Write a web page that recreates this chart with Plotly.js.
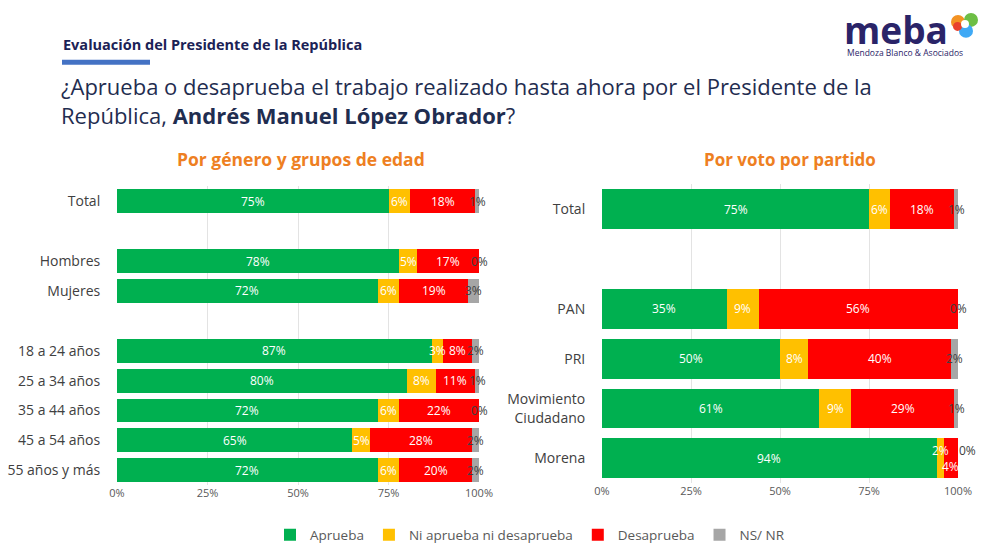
<!DOCTYPE html>
<html><head><meta charset="utf-8">
<script src="https://cdn.plot.ly/plotly-3.0.1.min.js"></script>
<style>html,body{margin:0;padding:0;background:#fff}#chart{width:1003px;height:551px}</style>
</head><body><div id="chart"></div><script>
// ---- data ----
const seriesNames = ['Aprueba', 'Ni aprueba ni desaprueba', 'Desaprueba', 'NS/ NR'];
const leftCategories = ['Total', ' ', 'Hombres', 'Mujeres', '  ', '18 a 24 años', '25 a 34 años', '35 a 44 años', '45 a 54 años', '55 años y más'];
const leftAprueba     = [75, null, 78, 72, null, 87, 80, 72, 65, 72];
const leftNi          = [6,  null, 5,  6,  null, 3,  8,  6,  5,  6];
const leftDesaprueba  = [18, null, 17, 19, null, 8,  11, 22, 28, 20];
const leftNsnr        = [1,  null, 0,  3,  null, 2,  1,  0,  2,  2];

const rightCategories = ['Total', ' ', 'PAN', 'PRI', 'Movimiento<br>Ciudadano', 'Morena'];
const rightAprueba    = [75, null, 35, 50, 61, 94];
const rightNi         = [6,  null, 9,  8,  9,  2];
const rightDesaprueba = [18, null, 56, 40, 29, 4];
const rightNsnr       = [1,  null, 0,  2,  1,  0];

const xTicks = [0, 25, 50, 75, 100];
const xTickLabels = ['0%', '25%', '50%', '75%', '100%'];

// ---- styles ----
const colors = ['#00B050', '#FFC000', '#FF0000', '#A6A6A6'];
const textColors = ['#FFFFFF', '#FFFFFF', '#FFFFFF', '#404040'];
const FONT = '"Open Sans", Lato, sans-serif';
// manual label nudges (pixels) as in the original: key = category|seriesIndex
const labelNudge = {'Morena|1': [0, 8], 'Morena|2': [0, -8], 'Morena|3': [9, 8]};

function makeTraces(cats, series, xa, ya, showLegend) {
  return series.map((vals, i) => ({
    type: 'bar', orientation: 'h',
    name: seriesNames[i], x: vals, y: cats,
    xaxis: xa, yaxis: ya,
    marker: {color: colors[i], line: {width: 0}},
    showlegend: showLegend, legendgroup: 'g' + i, hoverinfo: 'skip'
  }));
}

function makeLabels(cats, series, xa, ya) {
  const out = [];
  cats.forEach((c, j) => {
    let cum = 0;
    series.forEach((vals, i) => {
      const v = vals[j];
      if (v === null) return;
      const nudge = labelNudge[c + '|' + i] || [0, 0];
      out.push({
        xref: xa, yref: ya, x: cum + v / 2, y: c, text: v + '%',
        showarrow: false, xanchor: 'center', yanchor: 'middle',
        xshift: nudge[0], yshift: nudge[1],
        font: {family: FONT, size: 12, color: textColors[i]}
      });
      cum += v;
    });
  });
  return out;
}

const leftSeries = [leftAprueba, leftNi, leftDesaprueba, leftNsnr];
const rightSeries = [rightAprueba, rightNi, rightDesaprueba, rightNsnr];

const data = [
  ...makeTraces(leftCategories, leftSeries, 'x', 'y', true),
  ...makeTraces(rightCategories, rightSeries, 'x2', 'y2', false)
];

const W = 1003, H = 551;
const px = x => x / W, py = y => 1 - y / H;

const xaxisBase = {
  range: [0, 100], tickvals: xTicks, ticktext: xTickLabels,
  showgrid: true, gridcolor: '#E3E3E3', gridwidth: 1, zeroline: false,
  showline: false, ticks: '', tickfont: {family: FONT, size: 11, color: '#595959'},
  fixedrange: true
};
const yaxisBase = {
  type: 'category', showgrid: false, zeroline: false, showline: false,
  ticks: 'outside', ticklen: 13, tickcolor: 'rgba(0,0,0,0)',
  tickfont: {family: FONT, size: 14, color: '#404040'}, fixedrange: true
};

const layout = {
  width: W, height: H,
  margin: {l: 0, r: 0, t: 0, b: 0},
  paper_bgcolor: '#FFFFFF', plot_bgcolor: '#FFFFFF',
  barmode: 'stack', bargap: 0.2,
  font: {family: FONT},
  xaxis: Object.assign({}, xaxisBase, {domain: [px(117), px(479)], anchor: 'y'}),
  yaxis: Object.assign({}, yaxisBase, {domain: [py(487), py(187)], anchor: 'x',
    categoryorder: 'array', categoryarray: leftCategories, range: [leftCategories.length - 0.5, -0.5]}),
  xaxis2: Object.assign({}, xaxisBase, {domain: [px(602), px(958)], anchor: 'y2'}),
  yaxis2: Object.assign({}, yaxisBase, {domain: [py(485), py(185)], anchor: 'x2',
    categoryorder: 'array', categoryarray: rightCategories, range: [rightCategories.length - 0.5, -0.5]}),
  legend: {
    orientation: 'h', x: px(530), xanchor: 'center', y: py(537), yanchor: 'middle',
    font: {family: FONT, size: 13.5, color: '#595959'}, traceorder: 'normal',
    itemwidth: 30, bgcolor: 'rgba(0,0,0,0)'
  },
  shapes: [
    {type: 'rect', xref: 'paper', yref: 'paper', x0: px(62), x1: px(150), y0: py(65), y1: py(60),
     fillcolor: '#4472C4', line: {width: 0}},
    // logo icon
    {type: 'circle', xref: 'paper', yref: 'paper', x0: px(951), x1: px(965), y0: py(29), y1: py(15), fillcolor: '#F39323', line: {width: 0}},
    {type: 'circle', xref: 'paper', yref: 'paper', x0: px(964), x1: px(978), y0: py(27), y1: py(13), fillcolor: '#6DBE45', line: {width: 0}},
    {type: 'circle', xref: 'paper', yref: 'paper', x0: px(959), x1: px(973), y0: py(38), y1: py(24), fillcolor: '#3FA9F5', line: {width: 0}},
    {type: 'circle', xref: 'paper', yref: 'paper', x0: px(953), x1: px(962), y0: py(31), y1: py(22), fillcolor: '#E8412C', line: {width: 0}},
    {type: 'circle', xref: 'paper', yref: 'paper', x0: px(961), x1: px(969), y0: py(28), y1: py(20), fillcolor: '#FFFFFF', line: {width: 0}}
  ],
  annotations: [
    ...makeLabels(leftCategories, leftSeries, 'x', 'y'),
    ...makeLabels(rightCategories, rightSeries, 'x2', 'y2'),
    {text: '<b>Evaluación del Presidente de la República</b>', xref: 'paper', yref: 'paper',
     x: px(61), y: py(45), xanchor: 'left', yanchor: 'middle', showarrow: false,
     font: {family: FONT, size: 14.5, color: '#1B2256'}},
    {text: '¿Aprueba o desaprueba el trabajo realizado hasta ahora por el Presidente de la<br>República, <b>Andrés Manuel López Obrador</b>?',
     xref: 'paper', yref: 'paper', x: px(59), y: py(101), xanchor: 'left', yanchor: 'middle',
     align: 'left', showarrow: false, font: {family: FONT, size: 22, color: '#1F2D50'}},
    {text: '<b>Por género y grupos de edad</b>', xref: 'paper', yref: 'paper',
     x: px(301), y: py(160), xanchor: 'center', yanchor: 'middle', showarrow: false,
     font: {family: FONT, size: 17.5, color: '#EE7F22'}},
    {text: '<b>Por voto por partido</b>', xref: 'paper', yref: 'paper',
     x: px(790), y: py(160), xanchor: 'center', yanchor: 'middle', showarrow: false,
     font: {family: FONT, size: 17, color: '#EE7F22'}},
    {text: '<b>meba</b>', xref: 'paper', yref: 'paper',
     x: px(842), y: py(29), xanchor: 'left', yanchor: 'middle', showarrow: false,
     height: 32, valign: 'middle',
     font: {family: FONT, size: 37, color: '#2A2468'}},
    {text: 'Mendoza Blanco & Asociados', xref: 'paper', yref: 'paper',
     x: px(845), y: py(53), xanchor: 'left', yanchor: 'middle', showarrow: false,
     font: {family: FONT, size: 8.5, color: '#2A2468'}}
  ]
};

Plotly.newPlot('chart', data, layout, {displayModeBar: false, staticPlot: true});
</script></body></html>
